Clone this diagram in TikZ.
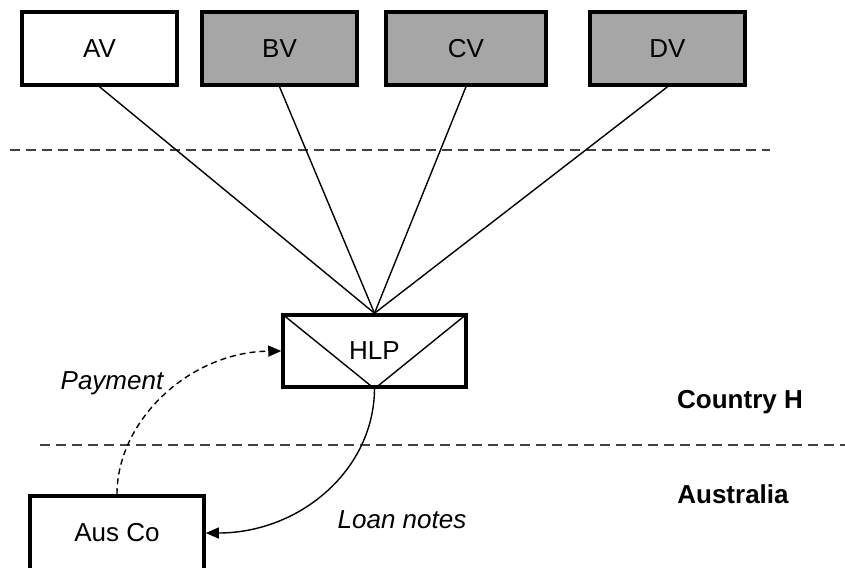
\documentclass[tikz,border=0pt]{standalone}
\usepackage{fontspec}
\setmainfont{Liberation Sans}
\usetikzlibrary{arrows.meta}
\definecolor{boxgray}{HTML}{A6A6A6}
\definecolor{dashgray}{HTML}{404040}
\tikzset{
  entity/.style={draw=black, line width=3.5pt, minimum width=155pt, minimum height=73pt, inner sep=0pt, font=\fontsize{26}{30}\selectfont},
  grayentity/.style={entity, fill=boxgray},
  link/.style={line width=1.4pt},
  border/.style={draw=dashgray, line width=1.5pt, dash pattern=on 10pt off 6pt},
  flowlabel/.style={font=\fontsize{26}{30}\selectfont\itshape},
  country/.style={font=\fontsize{26}{30}\selectfont\bfseries},
  tip/.style={-{Triangle[length=13pt,width=11pt]}}
}
\begin{document}
\begin{tikzpicture}[x=1pt,y=-1pt]
\useasboundingbox (0,0) rectangle (845,567);
% top entities
\node[entity] (AV) at (99.5,48.5) {AV};
\node[grayentity] (BV) at (279.5,48.5) {BV};
\node[grayentity, minimum width=160pt] (CV) at (466,48.5) {CV};
\node[grayentity] (DV) at (667.5,48.5) {DV};
% HLP
\node[entity, minimum width=183pt, minimum height=72pt] (HLP) at (374.5,351) {HLP};
\draw[link] (HLP.north west) -- (HLP.south) -- (HLP.north east);
% Aus Co
\node[entity, minimum width=174pt, minimum height=74pt] (AUS) at (117,533) {Aus Co};
% borders
\coordinate (b1s) at (10,150);
\coordinate (b1e) at (770,150);
\coordinate (b2s) at (40,445);
\coordinate (b2e) at (845,445);
\draw[border] (b1s) -- (b1e);
\draw[border] (b2s) -- (b2e);
% ownership links
\draw[link] (AV.south) -- (HLP.north);
\draw[link] (BV.south) -- (HLP.north);
\draw[link] (CV.south) -- (HLP.north);
\draw[link] (DV.south) -- (HLP.north);
% payment
\draw[link, dashed, dash pattern=on 6pt off 4pt, tip] (AUS.north) .. controls (117,420) and (190,352) .. (HLP.west);
% loan notes
\draw[link, tip] (HLP.south) .. controls (374,470) and (300,533) .. (AUS.east);
% labels
\node[flowlabel] (pay) at (112,383) {Payment};
\node[flowlabel] (loan) at (402,520) {Loan notes};
\node[country] (ch) at (740,402) {Country H};
\node[country] (au) at (733,494) {Australia};
\end{tikzpicture}
\end{document}
